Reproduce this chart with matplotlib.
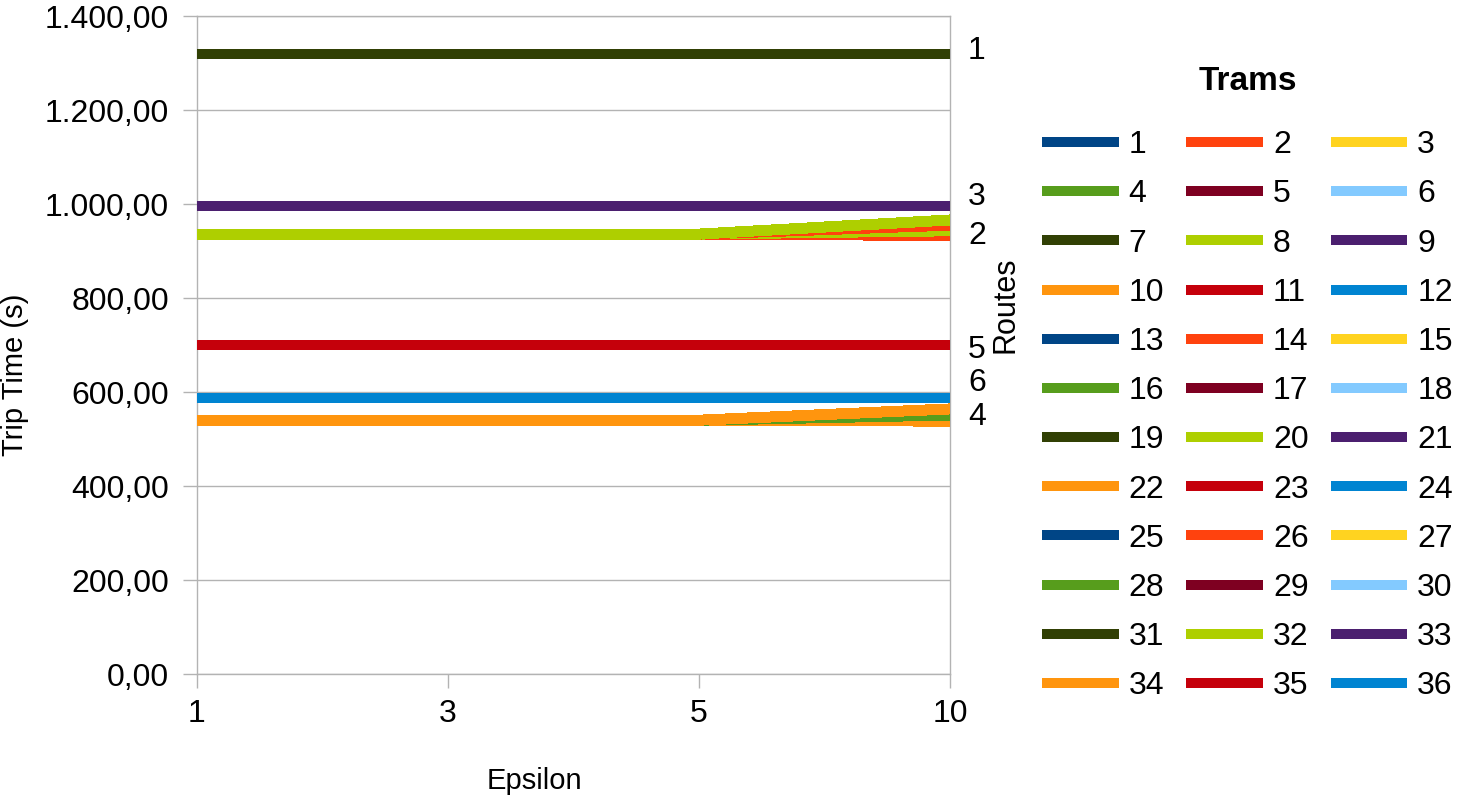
import matplotlib
matplotlib.use("Agg")
import matplotlib.pyplot as plt
from matplotlib.ticker import FuncFormatter
from matplotlib.transforms import blended_transform_factory

plt.rcParams['font.family'] = ['Liberation Sans', 'DejaVu Sans']

# ---------------- data ----------------
epsilon_labels = ["1", "3", "5", "10"]

tram_ids = list(range(1, 37))

# trip time (s) of every tram for epsilon = 1, 3, 5, 10
trip_times = [
    [1319, 1319, 1319, 1319],  # 1
    [936, 936, 936, 936],      # 2
    [996, 996, 996, 996],      # 3
    [540, 540, 540, 540],      # 4
    [701, 701, 701, 701],      # 5
    [588, 588, 588, 588],      # 6
    [1319, 1319, 1319, 1319],  # 7
    [936, 936, 936, 938],      # 8
    [996, 996, 996, 996],      # 9
    [540, 540, 540, 541],      # 10
    [701, 701, 701, 701],      # 11
    [588, 588, 588, 588],      # 12
    [1319, 1319, 1319, 1319],  # 13
    [936, 936, 936, 933],      # 14
    [996, 996, 996, 996],      # 15
    [540, 540, 540, 543],      # 16
    [701, 701, 701, 701],      # 17
    [588, 588, 588, 588],      # 18
    [1319, 1319, 1319, 1319],  # 19
    [936, 936, 936, 943],      # 20
    [996, 996, 996, 996],      # 21
    [540, 540, 540, 538],      # 22
    [701, 701, 701, 701],      # 23
    [588, 588, 588, 588],      # 24
    [1319, 1319, 1319, 1319],  # 25
    [936, 936, 936, 955],      # 26
    [996, 996, 996, 996],      # 27
    [540, 540, 540, 551],      # 28
    [701, 701, 701, 701],      # 29
    [588, 588, 588, 588],      # 30
    [1319, 1319, 1319, 1319],  # 31
    [936, 936, 936, 966],      # 32
    [996, 996, 996, 996],      # 33
    [540, 540, 540, 564],      # 34
    [701, 701, 701, 701],      # 35
    [588, 588, 588, 588],      # 36
]

palette = ["#004586", "#ff420e", "#ffd320", "#579d1c", "#7e0021", "#83caff",
           "#314004", "#aecf00", "#4b1f6f", "#ff950e", "#c5000b", "#0084d1"]

route_labels = ["1", "3", "2", "5", "6", "4"]
route_label_y = [1325, 1015, 932, 689, 619, 547]

y_ticks = [0, 200, 400, 600, 800, 1000, 1200, 1400]

# ---------------- figure ----------------
W, H = 1458, 800
fig = plt.figure(figsize=(W / 100, H / 100), dpi=100)
ax = fig.add_axes([197 / W, (H - 674) / H, (950 - 197) / W, (674 - 16) / H])

x = list(range(len(epsilon_labels)))
handles = []
for i, tid in enumerate(tram_ids):
    ln, = ax.plot(x, trip_times[i], color=palette[i % len(palette)],
                  lw=7.2, solid_capstyle='butt', antialiased=False,
                  label=str(tid), zorder=3)
    handles.append(ln)

ax.set_xlim(0, 3)
ax.set_ylim(0, 1400)
ax.set_xticks(x)
ax.set_xticklabels(epsilon_labels)
ax.set_yticks(y_ticks)


def de_fmt(v, pos):
    s = f"{v:,.2f}"
    return s.replace(",", "X").replace(".", ",").replace("X", ".")


ax.yaxis.set_major_formatter(FuncFormatter(de_fmt))

grey = "#b3b3b3"
ax.yaxis.grid(True, color=grey, lw=1)
ax.set_axisbelow(True)
for sp in ax.spines.values():
    sp.set_color(grey)
    sp.set_linewidth(1)
ax.tick_params(axis='both', direction='out', length=10, width=1, color=grey,
               labelsize=23)
ax.tick_params(axis='y', pad=10)
ax.tick_params(axis='x', pad=8)

ax.set_xlabel("Epsilon", fontsize=21)
ax.xaxis.set_label_coords((534 - 197) / 753, (674 - 781) / 658)
ax.xaxis.label.set_va('center')

ax.set_ylabel("Trip Time (s)", fontsize=21)
ax.yaxis.set_label_coords((15 - 197) / 753, (674 - 375) / 658)
ax.yaxis.label.set_va('center')
ax.yaxis.label.set_ha('center')

# route labels on the right
tr = blended_transform_factory(ax.transAxes, ax.transData)
for lab, yy in zip(route_labels, route_label_y):
    ax.text((968 - 197) / 753, yy, lab, transform=tr, ha='left', va='center',
            fontsize=23, clip_on=False)

fig.text(1006 / W, 1 - 305 / H, "Routes", rotation=90, ha='center',
         va='center', fontsize=22)

# legend, row-major order
order = [r * 3 + c for c in range(3) for r in range(12)]
leg = fig.legend([handles[k] for k in order], [str(tram_ids[k]) for k in order],
                 ncol=3, loc='upper left', bbox_to_anchor=(1042 / W, 1 - 66 / H),
                 frameon=False, fontsize=23, title="Trams",
                 title_fontproperties={'weight': 'bold', 'size': 24},
                 handlelength=2.4, handletextpad=0.31, columnspacing=0.69,
                 labelspacing=0.60, borderpad=0, borderaxespad=0)
leg._legend_box.sep = 24.0

fig.savefig("out.png", dpi=100)
